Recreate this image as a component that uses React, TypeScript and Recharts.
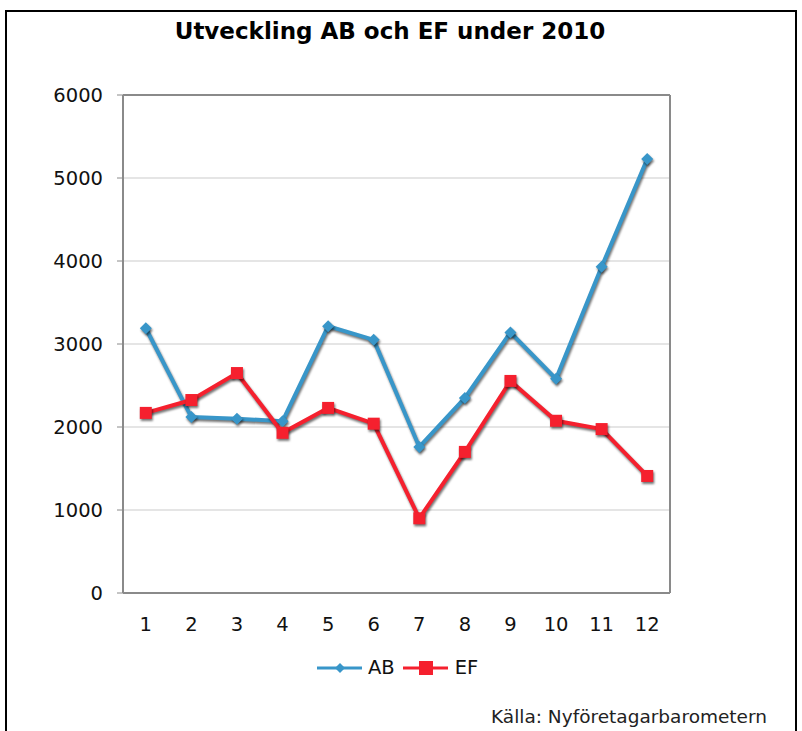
import {
  LineChart,
  Line,
  XAxis,
  YAxis,
  CartesianGrid,
  ReferenceLine,
} from "recharts";

const months = [1, 2, 3, 4, 5, 6, 7, 8, 9, 10, 11, 12];
const abValues = [3190, 2120, 2100, 2070, 3215, 3050, 1760, 2350, 3140, 2580, 3930, 5230];
const efValues = [2170, 2325, 2650, 1930, 2230, 2040, 900, 1700, 2555, 2075, 1975, 1410];
const yTicks = [0, 1000, 2000, 3000, 4000, 5000, 6000];
// tick marks sit between the months, like the original spreadsheet chart
const monthEdges = [0.5, ...months.map((m) => m + 0.5)];

const AB_COLOR = "#3896c9";
const EF_COLOR = "#f5202e";
const AXIS_COLOR = "#8a8a8a";
const FONT = "'DejaVu Sans', Verdana, sans-serif";

const chartData = months.map((m, i) => ({
  month: m,
  AB: abValues[i],
  EF: efValues[i],
}));

function Diamond(props: any) {
  const { cx, cy } = props;
  if (cx == null || cy == null) return null;
  const r = 6;
  return (
    <polygon
      points={`${cx},${cy - r} ${cx + r},${cy} ${cx},${cy + r} ${cx - r},${cy}`}
      fill={AB_COLOR}
    />
  );
}

function Square(props: any) {
  const { cx, cy } = props;
  if (cx == null || cy == null) return null;
  const s = 12;
  return <rect x={cx - s / 2} y={cy - s / 2} width={s} height={s} fill={EF_COLOR} />;
}

function LegendBox() {
  return (
    <div
      style={{
        position: "absolute",
        left: 317,
        top: 656,
        display: "flex",
        gap: 8,
        fontFamily: FONT,
        fontSize: 19.5,
        color: "#111",
      }}
    >
      <span style={{ display: "flex", alignItems: "center" }}>
        <svg width={46} height={16}>
          <line x1={0} y1={8} x2={45} y2={8} stroke={AB_COLOR} strokeWidth={3} />
          <polygon points="23,3 28,8 23,13 18,8" fill={AB_COLOR} />
        </svg>
        <span style={{ marginLeft: 5 }}>AB</span>
      </span>
      <span style={{ display: "flex", alignItems: "center" }}>
        <svg width={46} height={16}>
          <line x1={0} y1={8} x2={45} y2={8} stroke={EF_COLOR} strokeWidth={3} />
          <rect x={16} y={1} width={14} height={14} fill={EF_COLOR} />
        </svg>
        <span style={{ marginLeft: 6 }}>EF</span>
      </span>
    </div>
  );
}

export default function App() {
  return (
    <div style={{ position: "absolute", left: 0, top: 0, width: 802, height: 731, overflow: "hidden", background: "#fff" }}>
      <style>{`
        .recharts-line-curve, .recharts-line-dots {
          filter: drop-shadow(1px 2px 1px rgba(0,0,0,0.55));
        }
      `}</style>
      <div
        style={{
          position: "absolute",
          left: 5,
          top: 10,
          width: 792,
          height: 760,
          boxSizing: "border-box",
          borderTop: "2px solid #000",
          borderLeft: "2px solid #000",
          borderRight: "2px solid #000",
        }}
      />
      <div
        style={{
          position: "absolute",
          left: 0,
          top: 18,
          width: 780,
          textAlign: "center",
          fontFamily: FONT,
          fontWeight: "bold",
          fontSize: 23,
          color: "#000",
        }}
      >
        Utveckling AB och EF under 2010
      </div>
      <div style={{ position: "absolute", left: 0, top: 0 }}>
        <LineChart
          width={802}
          height={731}
          data={chartData}
          margin={{ top: 95, right: 132, bottom: 136, left: 63 }}
        >
          <CartesianGrid vertical={false} stroke="#dddddd" strokeWidth={1.5} />
          <XAxis
            dataKey="month"
            type="number"
            domain={[0.5, 12.5]}
            ticks={months}
            height={1}
            tickLine={false}
            tickSize={0}
            tickMargin={24}
            axisLine={{ stroke: AXIS_COLOR, strokeWidth: 2 }}
            tick={{ fill: "#111", fontFamily: FONT, fontSize: 19.5 }}
            interval={0}
          />
          <XAxis
            xAxisId="edges"
            dataKey="month"
            type="number"
            domain={[0.5, 12.5]}
            ticks={monthEdges}
            height={1}
            tick={false}
            axisLine={false}
            tickSize={6}
            tickLine={{ stroke: "#cccccc", strokeWidth: 2 }}
            interval={0}
          />
          <YAxis
            width={60}
            domain={[0, 6000]}
            ticks={yTicks}
            tickSize={6}
            tickMargin={14}
            axisLine={{ stroke: AXIS_COLOR, strokeWidth: 2 }}
            tickLine={{ stroke: AXIS_COLOR }}
            tick={{ fill: "#111", fontFamily: FONT, fontSize: 19.5 }}
          />
          <ReferenceLine y={6000} stroke={AXIS_COLOR} strokeWidth={2} />
          <ReferenceLine x={12.5} stroke={AXIS_COLOR} strokeWidth={2} />
          <Line
            dataKey="AB"
            stroke={AB_COLOR}
            strokeWidth={4}
            dot={<Diamond />}
            activeDot={false}
            isAnimationActive={false}
          />
          <Line
            dataKey="EF"
            stroke={EF_COLOR}
            strokeWidth={4}
            dot={<Square />}
            activeDot={false}
            isAnimationActive={false}
          />
        </LineChart>
      </div>
      <LegendBox />
      <div
        style={{
          position: "absolute",
          left: 491,
          top: 706,
          fontFamily: FONT,
          fontSize: 18.5,
          color: "#222",
        }}
      >
        Källa: Nyföretagarbarometern
      </div>
    </div>
  );
}
